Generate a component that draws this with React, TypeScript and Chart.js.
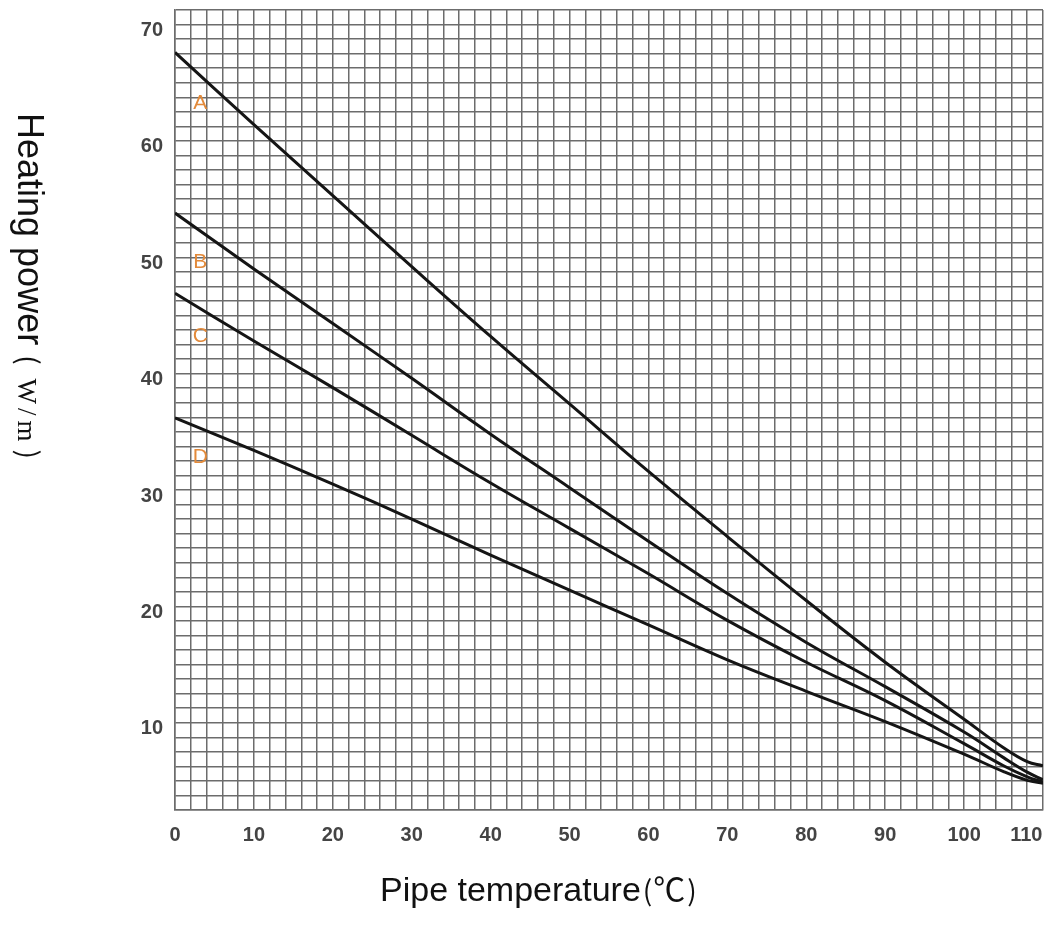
import React, { useEffect, useRef } from 'react';
import { Chart, registerables } from 'chart.js';

Chart.register(...registerables);

// Pipe temperature (°C)
const temperatures = [0, 10, 20, 30, 40, 50, 60, 70, 80, 90, 100, 105, 108, 110];
// Heating power (W/m) for each cable type
const powerA = [67.6, 61.4, 55.3, 49.2, 43.2, 37.4, 31.6, 26.0, 20.5, 15.2, 10.3, 7.85, 6.65, 6.3];
const powerB = [53.8, 49.0, 44.3, 39.6, 34.8, 30.2, 25.6, 21.1, 16.9, 13.1, 9.2, 7.0, 5.75, 5.1];
const powerC = [46.9, 42.8, 38.8, 34.7, 30.6, 26.7, 22.8, 18.8, 15.2, 11.9, 8.2, 6.3, 5.35, 4.9];
const powerD = [36.2, 33.4, 30.5, 27.5, 24.4, 21.4, 18.4, 15.4, 12.7, 10.1, 7.3, 5.8, 5.05, 4.8];

const seriesNames = ['A', 'B', 'C', 'D'];
const seriesValues = [powerA, powerB, powerC, powerD];
// where the orange letters sit (temperature, power)
const nameLabelTemp = [3.2, 3.2, 3.2, 3.2];
const nameLabelPower = [63.2, 49.6, 43.2, 32.8];

// axis ranges and grid steps
const xMin = 0;
const xMax = 110;
const xGridStep = 2;
const xLabelStep = 10;
const yMin = 2.5;
const yMax = 71.25;
const yGridStep = 1.25;
const yLabelStep = 10;

const xTitleMain = 'Pipe temperature';
const xTitleUnit = ['(', '℃', ')'];
const yTitleMain = 'Heating power';
const yTitleUnit = ['(', 'W', '/', 'm', ')'];

const GRID_COLOR = '#6c6c6c';
const TICK_COLOR = '#444444';
const LABEL_COLOR = '#e38a3a';

type Seg = { text: string; font: string; gapBefore: number };

function drawSegs(ctx: CanvasRenderingContext2D, segs: Seg[]) {
  let cx = 0;
  for (const s of segs) {
    cx += s.gapBefore;
    ctx.font = s.font;
    ctx.fillText(s.text, cx, 0);
    cx += ctx.measureText(s.text).width;
  }
}

const decorPlugin = {
  id: 'decor',
  afterDatasetsDraw(chart: any) {
    const ctx: CanvasRenderingContext2D = chart.ctx;
    const xs = chart.scales.x;
    const ys = chart.scales.y;
    ctx.save();
    // series letters
    ctx.fillStyle = LABEL_COLOR;
    ctx.font = '21px "Liberation Sans", Arial, sans-serif';
    ctx.textAlign = 'center';
    ctx.textBaseline = 'middle';
    seriesNames.forEach((n, i) => {
      ctx.fillText(n, xs.getPixelForValue(nameLabelTemp[i]), ys.getPixelForValue(nameLabelPower[i]));
    });
    ctx.restore();

    // axis titles
    ctx.save();
    ctx.fillStyle = '#111';
    ctx.textAlign = 'left';
    ctx.textBaseline = 'alphabetic';
    ctx.translate(380, 901);
    drawSegs(ctx, [
      { text: xTitleMain, font: '34px "Liberation Sans", Arial, sans-serif', gapBefore: 0 },
      { text: xTitleUnit[0], font: '28px "Noto Sans CJK SC", sans-serif', gapBefore: 2 },
      { text: xTitleUnit[1], font: '32px "Noto Sans CJK SC", sans-serif', gapBefore: 1 },
      { text: xTitleUnit[2], font: '28px "Noto Sans CJK SC", sans-serif', gapBefore: 2 },
    ]);
    ctx.restore();

    ctx.save();
    ctx.fillStyle = '#111';
    ctx.textAlign = 'left';
    ctx.textBaseline = 'alphabetic';
    ctx.translate(18, 113);
    ctx.rotate(Math.PI / 2);
    drawSegs(ctx, [
      { text: yTitleMain, font: '36px "Liberation Sans", Arial, sans-serif', gapBefore: 0 },
      { text: yTitleUnit[0], font: '28px "Noto Sans CJK SC", sans-serif', gapBefore: 10 },
      { text: yTitleUnit[1], font: '27px "Liberation Serif", serif', gapBefore: 14 },
      { text: yTitleUnit[2], font: '27px "Liberation Serif", serif', gapBefore: 4 },
      { text: yTitleUnit[3], font: '27px "Liberation Serif", serif', gapBefore: 5 },
      { text: yTitleUnit[4], font: '28px "Noto Sans CJK SC", sans-serif', gapBefore: 8 },
    ]);
    ctx.restore();
  },
};

export default function App() {
  const canvasRef = useRef<HTMLCanvasElement | null>(null);

  useEffect(() => {
    const canvas = canvasRef.current;
    if (!canvas) return;
    const chart = new Chart(canvas, {
      type: 'line',
      data: {
        datasets: seriesValues.map((vals, i) => ({
          label: seriesNames[i],
          data: temperatures.map((t, j) => ({ x: t, y: vals[j] })),
          borderColor: '#151515',
          borderWidth: 3,
          pointRadius: 0,
          fill: false,
          tension: 0.4,
        })),
      },
      options: {
        responsive: false,
        animation: false,
        devicePixelRatio: 1,
        layout: { padding: { top: 10, right: 4, left: 0, bottom: 0 } },
        plugins: {
          legend: { display: false },
          tooltip: { enabled: false },
        },
        scales: {
          x: {
            type: 'linear',
            min: xMin,
            max: xMax,
            afterFit: (s: any) => {
              s.height = 120;
              s.paddingLeft = 0;
              s.paddingRight = 0;
            },
            grid: { color: GRID_COLOR, lineWidth: 1.5, drawTicks: false },
            border: { color: GRID_COLOR, width: 1.5 },
            ticks: {
              stepSize: xGridStep,
              autoSkip: false,
              maxRotation: 0,
              minRotation: 0,
              maxTicksLimit: 1000,
              padding: 13,
              color: TICK_COLOR,
              font: { family: '"Liberation Sans", Arial, sans-serif', size: 20, weight: 'bold' },
              callback: (v: any) => {
                const n = Number(v);
                if (Math.abs(n % xLabelStep) > 1e-6) return '';
                return n === xMax ? String(n) + '\u2007\u2007\u2007' : String(n);
              },
            },
          },
          y: {
            type: 'linear',
            min: yMin,
            max: yMax,
            afterFit: (s: any) => {
              s.width = 175;
              s.paddingTop = 0;
              s.paddingBottom = 0;
            },
            grid: { color: GRID_COLOR, lineWidth: 1.5, drawTicks: false },
            border: { color: GRID_COLOR, width: 1.5 },
            ticks: {
              stepSize: yGridStep,
              autoSkip: false,
              maxTicksLimit: 1000,
              padding: 12,
              labelOffset: 6,
              color: TICK_COLOR,
              font: { family: '"Liberation Sans", Arial, sans-serif', size: 20, weight: 'bold' },
              callback: (v: any) => {
                const n = Number(v);
                if (n < 10 || Math.abs(n % yLabelStep) > 1e-6) return '';
                return String(n);
              },
            },
          },
        },
      },
      plugins: [decorPlugin],
    });
    return () => chart.destroy();
  }, []);

  return (
    <div style={{ position: 'fixed', left: 0, top: 0, width: 1047, height: 930, background: '#fff' }}>
      <canvas ref={canvasRef} width={1047} height={930} style={{ display: 'block' }} />
    </div>
  );
}
